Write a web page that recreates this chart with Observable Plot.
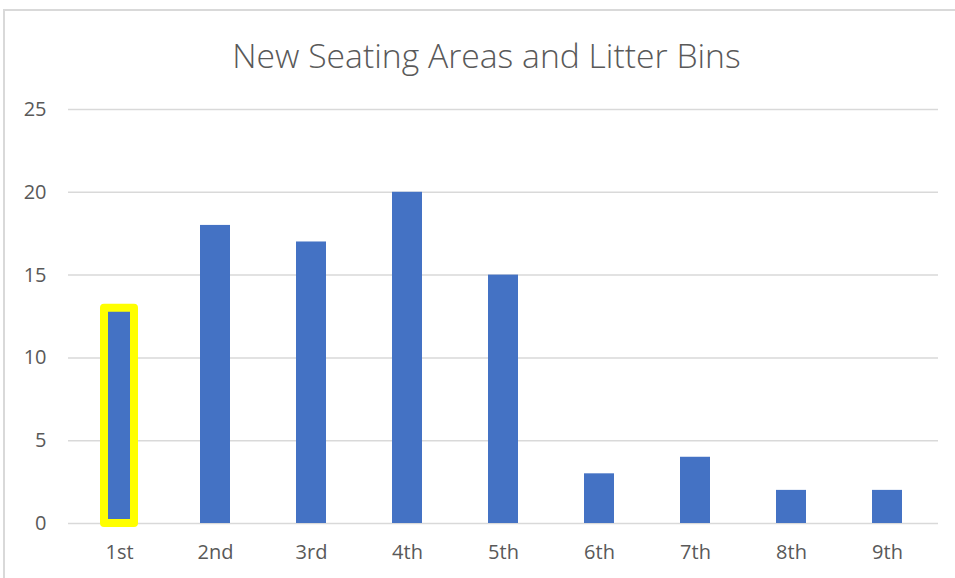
<!DOCTYPE html>
<html>
<head>
<meta charset="utf-8">
<script src="https://cdn.jsdelivr.net/npm/d3@7"></script>
<script src="https://cdn.jsdelivr.net/npm/@observablehq/plot@0.6"></script>
<style>
  html, body { margin: 0; padding: 0; background: #fff; }
  #wrap { position: relative; width: 955px; height: 578px; overflow: hidden; font-family: "Open Sans", sans-serif; }
  #frame { position: absolute; left: 3px; top: 9px; right: -5px; bottom: -5px; border-top: 2px solid #d9d9d9; border-left: 2px solid #d9d9d9; pointer-events: none; }
  #title { position: absolute; left: 9px; top: 0; width: 955px; height: 90px; text-align: center; line-height: 110px; font-size: 33.7px; font-weight: 300; color: #595959; }
  #chart { position: absolute; left: 0; top: 90px; }
</style>
</head>
<body>
<div id="wrap">
  <div id="frame"></div>
  <div id="title">New Seating Areas and Litter Bins</div>
  <div id="chart"></div>
</div>
<script>
const categories = ["1st", "2nd", "3rd", "4th", "5th", "6th", "7th", "8th", "9th"];
const values = [13, 18, 17, 20, 15, 3, 4, 2, 2];
const highlighted = ["1st"];
const yTicks = [0, 5, 10, 15, 20, 25];

const data = categories.map((c, i) => ({category: c, value: values[i]}));
const hl = data.filter(d => highlighted.includes(d.category));

const chart = Plot.plot({
  width: 955,
  height: 488,
  marginTop: 19,
  marginBottom: 55,
  marginLeft: 68,
  marginRight: 17,
  style: {fontSize: "20px", color: "#595959", fontFamily: "Open Sans, sans-serif", background: "transparent"},
  x: {domain: categories, paddingInner: 0.69, paddingOuter: 0.345, label: null, tickSize: 0, tickPadding: 21},
  y: {domain: [0, 25], ticks: yTicks, label: null, tickSize: 0, tickPadding: 22},
  marks: [
    Plot.gridY(yTicks, {stroke: "#d9d9d9", strokeOpacity: 1, strokeWidth: 1.5}),
    Plot.barY(data, {x: "category", y: "value", fill: "#4472C4"}),
    Plot.barY(hl, {x: "category", y: "value", fill: "none", stroke: "#FFFF00", strokeWidth: 8, strokeLinejoin: "round"}),
    Plot.axisX({tickSize: 0, tickPadding: 21, label: null}),
    Plot.axisY({ticks: yTicks, tickSize: 0, tickPadding: 22, label: null})
  ]
});
document.getElementById("chart").appendChild(chart);
</script>
</body>
</html>
